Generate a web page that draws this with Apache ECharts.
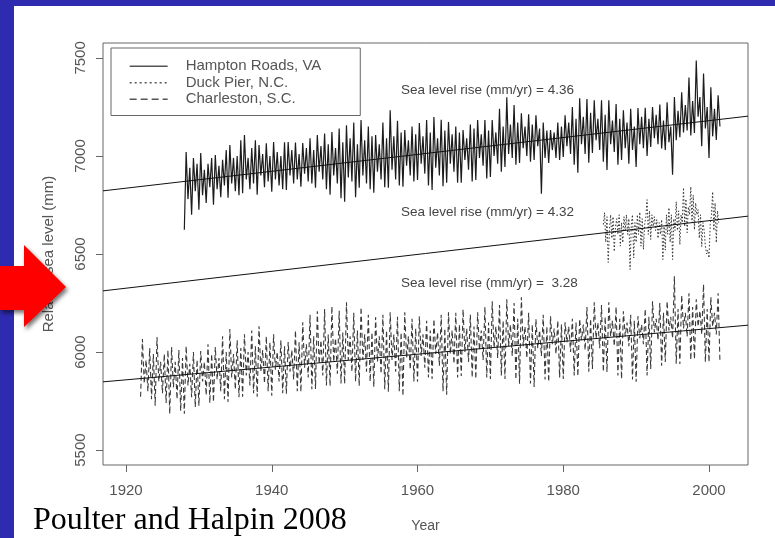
<!DOCTYPE html>
<html>
<head>
<meta charset="utf-8">
<script src="https://cdn.jsdelivr.net/npm/echarts@6/dist/echarts.min.js"></script>
<style>html,body{margin:0;padding:0;background:#2e2bb0;}#c{width:775px;height:538px;}</style>
</head>
<body>
<div id="c"></div>
<script>
// ---- data ----
const seriesNames = ['Hampton Roads, VA', 'Duck Pier, N.C.', 'Charleston, S.C.'];
const yTicks = [5500, 6000, 6500, 7000, 7500];
const xTicks = [1920, 1940, 1960, 1980, 2000];
const rateLabels = ['Sea level rise (mm/yr) = 4.36', 'Sea level rise (mm/yr) = 4.32', 'Sea level rise (mm/yr) =  3.28'];

// Hampton Roads, quarterly readings from 1928.0
const hamptonStart = 1928.0, hamptonStep = 0.25;
const hamptonValues = [
6624,7020,6780,6940, 6700,6990,6820,6960, 6726,7015,6800,6930, 6760,6960,6840,6990,
6751,7005,6830,6950, 6790,6980,6850,7030, 6787,7056,6860,6990, 6820,7000,6800,7080,
6810,7107,6880,6990, 6830,7040,6860,7080, 6802,7056,6900,7010, 6840,7065,6870,7000,
6817,7071,6880,7020, 6850,7000,6830,7070, 6827,7071,6900,7030, 6860,7068,6880,7010,
6843,7066,6910,7040, 6870,7090,6860,7030, 6838,7107,6920,7050, 6880,7115,6830,7060,
6802,7122,6900,7040, 6860,7140,6785,7070, 6766,7157,6890,7090, 6870,7170,6790,7060,
6838,7183,6900,7080, 6860,7150,6830,7100, 6812,7107,6920,7060, 6880,7170,6840,7090,
6838,7233,6930,7100, 6880,7180,6850,7120, 6843,7132,6950,7080, 6900,7150,6870,7110,
6878,7168,6960,7100, 6910,7183,6850,7120, 6827,7198,6940,7090, 6900,7185,6845,7130,
6863,7173,6960,7110, 6920,7150,6863,7120, 6863,7132,6980,7090, 6930,7160,6870,7140,
6878,7183,6990,7110, 6950,7183,6885,7130, 6893,7183,7000,7120, 6960,7240,6920,7150,
6944,7299,7010,7160, 6990,7260,6955,7170, 6964,7218,7040,7150, 7000,7213,6970,7160,
6980,7208,7050,7140, 6807,7170,6990,7130, 6964,7132,7030,7120, 6990,7170,6980,7150,
6995,7208,7050,7170, 7010,7250,6955,7190, 6914,7294,7060,7200, 7010,7290,6965,7220,
7015,7284,7080,7190, 7030,7284,6970,7210, 6929,7284,7060,7180, 7020,7265,6955,7190,
6980,7233,7040,7170, 6960,7240,7030,7150, 6944,7244,7060,7200, 7040,7246,7000,7190,
7046,7249,7090,7210, 7060,7262,7038,7180, 7030,7274,7070,7150, 6904,7300,7080,7230,
7096,7325,7120,7260, 7130,7400,7105,7280, 7117,7487,7200,7300, 7050,7420,7140,7250,
6990,7350,7100,7240, 7081,7310,7150
];

// Duck Pier, bi-monthly readings from 1985.5
const duckStart = 1985.5, duckStep = 1 / 6;
const duckValues = [
6650,6711,6560,6690,6457,6620, 6700,6580,6690,6513,6640,6680, 6600,6700,6540,6660,6558,6690,
6620,6700,6600,6680,6421,6650, 6700,6480,6660,6560,6700,6600, 6713,6540,6680,6523,6650,6690,
6777,6600,6720,6574,6700,6640, 6690,6620,6675,6580,6660,6600, 6675,6472,6640,6520,6700,6600,
6736,6560,6700,6472,6680,6620, 6767,6620,6720,6548,6700,6660, 6838,6640,6780,6609,6740,6700,
6843,6660,6800,6624,6760,6700, 6726,6580,6700,6538,6660,6620, 6540,6500,6520,6480,6650,6700,
6817,6620,6760,6558,6720,6660
];

// Charleston, quarterly readings from 1922.0
const charlestonStart = 1922.0, charlestonStep = 0.25;
const charlestonValues = [
5772,6066,5840,5960, 5800,6020,5760,5990, 5726,6076,5850,5950, 5790,5990,5740,6010,
5685,6025,5820,5950, 5760,6010,5700,5970, 5685,6030,5830,5940, 5770,6000,5720,5960,
5726,6005,5850,5950, 5780,6040,5740,5990, 5746,6025,5860,5970, 5800,6080,5760,6000,
5746,6117,5870,5990, 5810,6060,5770,6020, 5772,6091,5880,6000, 5830,6110,5790,6030,
5772,6132,5900,6010, 5840,6080,5800,6050, 5777,6091,5910,6000, 5850,6060,5790,6030,
5787,6051,5900,6010, 5860,6110,5800,6050, 5797,6152,5920,6040, 5870,6190,5810,6080,
5812,6208,5940,6060, 5880,6220,5830,6090, 5827,6233,5950,6070, 5890,6210,5840,6100,
5838,6254,5960,6080, 5900,6200,5850,6110, 5827,6228,5960,6090, 5900,6190,5850,6100,
5822,6178,5950,6080, 5890,6190,5810,6110, 5797,6203,5960,6090, 5900,6180,5800,6100,
5777,6203,5970,6080, 5910,6170,5850,6120, 5848,6183,5980,6090, 5920,6160,5870,6110,
5863,6168,5990,6100, 5930,6190,5800,6120, 5782,6203,5990,6110, 5940,6200,5870,6140,
5878,6218,6000,6120, 5950,6190,5870,6130, 5863,6203,6010,6110, 5960,6230,5870,6150,
5863,6259,6020,6130, 5970,6240,5880,6160, 5863,6269,6030,6140, 5980,6250,5860,6170,
5838,6279,6030,6130, 5970,6200,5840,6140, 5822,6168,6020,6110, 5980,6190,5860,6130,
5848,6183,6040,6120, 5990,6160,5870,6140, 5863,6152,6050,6130, 6000,6170,5880,6150,
5878,6168,6060,6140, 6010,6230,5900,6170, 5914,6254,6070,6150, 6020,6240,5900,6180,
5898,6254,6080,6160, 6030,6230,5880,6170, 5863,6208,6080,6150, 6030,6190,5860,6160,
5848,6183,6070,6140, 6040,6220,5880,6180, 5914,6259,6100,6170, 6060,6250,5930,6200,
5949,6259,6110,6180, 6070,6386,5940,6220, 5939,6290,6120,6200, 6080,6300,5960,6230,
5964,6269,6130,6210, 6090,6345,5950,6220, 5949,6280,6130,6200, 6090,6300,5949
];

// fitted trend lines: values at the two ends of the x range
const fitYears = [1916.84, 2005.35];
const hamptonFit = [6822, 7203];
const duckFit = [6312, 6693];
const charlestonFit = [5848, 6137];

// ---- build ----
function pairs(start, step, vals) { return vals.map((v, i) => [start + i * step, v]); }
const FONT = 'Liberation Sans, Arial, Helvetica, sans-serif';
const chart = echarts.init(document.getElementById('c'), null, { renderer: 'canvas' });

const dataLine = (name, data, type, color, width) => ({
  name, type: 'line', data, symbol: 'none', showSymbol: false, animation: false,
  lineStyle: { color, width, type }, itemStyle: { color }, z: 3
});
const fitLine = (vals) => ({
  type: 'line', data: fitYears.map((y, i) => [y, vals[i]]), symbol: 'none', animation: false,
  lineStyle: { color: '#111', width: 1 }, z: 5, silent: true
});
const plain = v => String(v);

chart.setOption({
  backgroundColor: '#2e2bb0',
  animation: false,
  grid: { left: 103, right: 27, top: 43, bottom: 71, show: true, borderColor: '#666', borderWidth: 1, backgroundColor: '#fff' },
  xAxis: {
    type: 'value', min: fitYears[0], max: fitYears[1],
    name: 'Year', nameLocation: 'middle', nameGap: 54,
    nameTextStyle: { color: '#555', fontSize: 14, fontFamily: FONT },
    axisLine: { show: false }, splitLine: { show: false },
    axisTick: { show: true, length: 7, customValues: xTicks, lineStyle: { color: '#666' } },
    axisLabel: { customValues: xTicks, formatter: plain, color: '#555', fontSize: 15, fontFamily: FONT, margin: 18 }
  },
  yAxis: {
    type: 'value', min: 5424, max: 7576,
    name: 'Relative sea level (mm)', nameLocation: 'middle', nameGap: 47, nameRotate: 90,
    nameTextStyle: { color: '#555', fontSize: 15, fontFamily: FONT },
    axisLine: { show: false }, splitLine: { show: false },
    axisTick: { show: true, length: 7, customValues: yTicks, lineStyle: { color: '#666' } },
    axisLabel: { customValues: yTicks, formatter: plain, rotate: 90, color: '#555', fontSize: 15, fontFamily: FONT, margin: 15 }
  },
  legend: {
    orient: 'vertical', left: 111, top: 48,
    data: [
      { name: seriesNames[0], lineStyle: { type: 'solid' } },
      { name: seriesNames[1], lineStyle: { type: [2, 3] } },
      { name: seriesNames[2], lineStyle: { type: [7, 4] } }
    ],
    itemWidth: 38, itemHeight: 12, itemGap: 0,
    padding: [10, 39, 8, 18], borderColor: '#666', borderWidth: 1, backgroundColor: '#fff',
    itemStyle: { opacity: 0, borderWidth: 0 },
    lineStyle: { color: '#555', width: 1.3 },
    textStyle: { color: '#555', fontSize: 15, fontFamily: FONT, padding: [0, 0, 0, 13], lineHeight: 16.5 },
    selectedMode: false
  },
  series: [
    dataLine(seriesNames[0], pairs(hamptonStart, hamptonStep, hamptonValues), 'solid', '#1c1c1c', 1.2),
    dataLine(seriesNames[1], pairs(duckStart, duckStep, duckValues), [1.5, 2], '#333', 1),
    dataLine(seriesNames[2], pairs(charlestonStart, charlestonStep, charlestonValues), [5, 3], '#3a3a3a', 1.1),
    fitLine(hamptonFit), fitLine(duckFit), fitLine(charlestonFit)
  ],
  graphic: [
    { type: 'rect', z: -100, shape: { x: 14, y: 6, width: 761, height: 532 }, style: { fill: '#fff' } },
    { type: 'text', z: 50, x: 401, y: 90, style: { text: rateLabels[0], fill: '#444', font: '13.5px ' + FONT, textVerticalAlign: 'middle' } },
    { type: 'text', z: 50, x: 401, y: 212, style: { text: rateLabels[1], fill: '#444', font: '13.5px ' + FONT, textVerticalAlign: 'middle' } },
    { type: 'text', z: 50, x: 401, y: 283, style: { text: rateLabels[2], fill: '#444', font: '13.5px ' + FONT, textVerticalAlign: 'middle' } },
    { type: 'text', z: 50, x: 33, y: 521, style: { text: 'Poulter and Halpin 2008', fill: '#000', font: '32px "Liberation Serif", "Times New Roman", serif', textVerticalAlign: 'middle' } },
    { type: 'polygon', z: 60, shape: { points: [[0, 266], [24, 266], [24, 245], [66, 287], [24, 327], [24, 310], [0, 310]] },
      style: { fill: '#ff0000', shadowColor: 'rgba(0,0,0,0.55)', shadowBlur: 4, shadowOffsetX: 2, shadowOffsetY: 3 } }
  ]
});
</script>
</body>
</html>
